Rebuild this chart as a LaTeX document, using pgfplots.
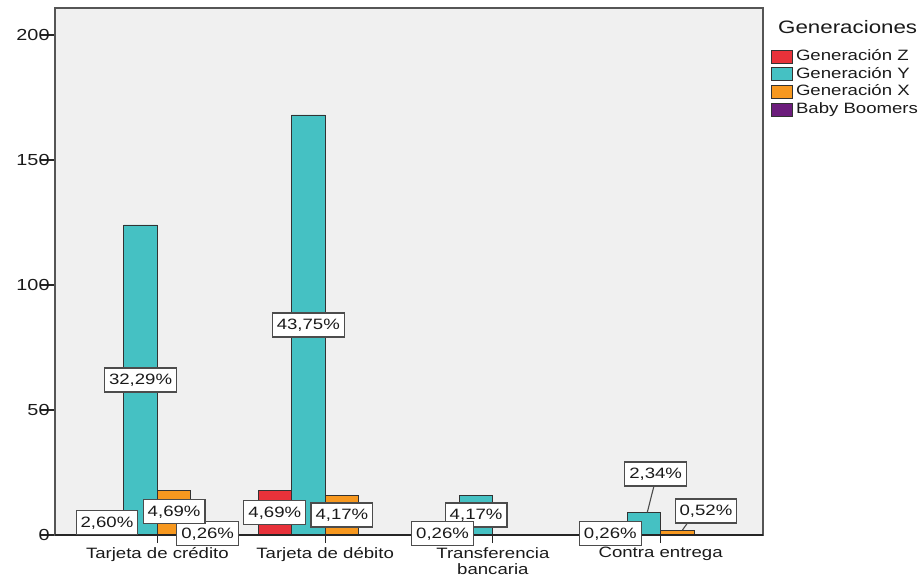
\documentclass[border=0pt]{standalone}
\usepackage{fontspec}
\setmainfont{Liberation Sans}[FakeStretch=1.24]
\usepackage{pgfplots}
\usepackage{pgfplotstable}
\pgfplotsset{compat=1.18}

\definecolor{genZ}{HTML}{E8323A}
\definecolor{genY}{HTML}{45C1C3}
\definecolor{genX}{HTML}{F7981F}
\definecolor{genBB}{HTML}{6C1D7C}
\definecolor{panel}{HTML}{F0F0F0}
\definecolor{framegray}{HTML}{555555}
\definecolor{txt}{HTML}{1A1A1A}

% counts per payment method (N = 384); lx/ly place the percentage label
\pgfplotstableread{
x     n    lx     ly
-0.3  10   -0.3   5
0.7   18   0.7    9
1.7   1    1.7    0.5
2.7   1    2.7    0.5
}\tZ
\pgfplotstableread{
x     n    lx     ly
-0.1  124  -0.1   62
0.9   168  0.9    84
1.9   16   1.9    8
2.9   9    2.97   24.4
}\tY
\pgfplotstableread{
x     n    lx     ly
0.1   18   0.1    9.3
1.1   16   1.1    8
3.1   2    3.27   9.6
}\tX
\pgfplotstableread{
x     n    lx     ly
0.3   1    0.3    0.5
}\tBB

\pgfplotsset{
  genbar/.style={ybar, bar width=0.2, bar shift=0pt, draw=black!80,
    line width=0.8bp, forget plot},
  pctlabel/.style={draw=none, forget plot,
    point meta={\thisrow{n}/3.84},
    nodes near coords={\pgfmathprintnumber[fixed,fixed zerofill,precision=2,use comma]{\pgfplotspointmeta}\%},
    nodes near coords align=center,
    every node near coord/.style={anchor=center, draw=black!70, fill=white,
      line width=1.1bp, text=txt, font=\fontsize{15bp}{18bp}\selectfont,
      inner xsep=4.5bp, inner ysep=5.5bp, text height=11bp, text depth=2bp}},
}

\begin{document}
\begin{tikzpicture}
\useasboundingbox (-55bp,-41bp) rectangle (865bp,535bp);
\begin{axis}[
  at={(0,0)}, anchor=south west,
  scale only axis, width=708bp, height=527bp,
  xmin=-0.61, xmax=3.61, ymin=0, ymax=210.8,
  clip=false,
  axis background/.style={fill=panel},
  axis line style={framegray, line width=1.5bp},
  xtick={0,1,2,3},
  xticklabels={Tarjeta de crédito, Tarjeta de débito, {Transferencia\\bancaria}, Contra entrega},
  ytick={0,50,100,150,200},
  xtick pos=bottom, ytick pos=left, tick align=outside,
  xtick style={black!85, line width=1.2bp, /pgfplots/major tick length=8bp},
  ytick style={black!85, line width=1.2bp, /pgfplots/major tick length=14bp},
  /pgf/number format/assume math mode=true,
  xticklabel style={align=center, text=txt, font=\fontsize{15bp}{16bp}\selectfont,
    inner ysep=2bp, yshift=-6bp},
  yticklabel style={text=txt, font=\fontsize{16bp}{18bp}\selectfont, inner xsep=1bp},
  legend style={draw=none, fill=none, at={(1,1)}, anchor=north west,
    xshift=8bp, yshift=-40bp, inner sep=0pt, row sep=0pt, column sep=3bp,
    font=\fontsize{15bp}{17.7bp}\selectfont, text=txt,
    nodes={inner sep=0pt, text height=12.2bp, text depth=5.5bp}},
  legend cell align=left,
  legend image code/.code={\draw[#1] (0bp,-6bp) rectangle (21bp,7bp);},
]
\addplot[genbar, fill=genZ] table[x=x, y=n] {\tZ};
\addplot[genbar, fill=genY] table[x=x, y=n] {\tY};
\addplot[genbar, fill=genX] table[x=x, y=n] {\tX};
\addplot[genbar, fill=genBB] table[x=x, y=n] {\tBB};

% x axis baseline
\draw[black!85, line width=1.2bp] (rel axis cs:0,0) -- (rel axis cs:1,0);

% leader lines for the labels moved off their bars
\draw[black!70, line width=1.1bp] (axis cs:2.96,19.6) -- (axis cs:2.92,9);
\draw[black!70, line width=1.1bp] (axis cs:3.16,4.8) -- (axis cs:3.13,2);

\addplot[pctlabel] table[x=lx, y=ly] {\tBB};
\addplot[pctlabel] table[x=lx, y=ly] {\tX};
\addplot[pctlabel] table[x=lx, y=ly] {\tY};
\addplot[pctlabel] table[x=lx, y=ly] {\tZ};

\addlegendimage{fill=genZ, draw=black!80, line width=0.8bp}
\addlegendentry{Generación Z}
\addlegendimage{fill=genY, draw=black!80, line width=0.8bp}
\addlegendentry{Generación Y}
\addlegendimage{fill=genX, draw=black!80, line width=0.8bp}
\addlegendentry{Generación X}
\addlegendimage{fill=genBB, draw=black!80, line width=0.8bp}
\addlegendentry{Baby Boomers}

\node[anchor=west, text=txt, font=\fontsize{18bp}{20bp}\selectfont, inner sep=0pt]
  at ([xshift=15bp, yshift=-19bp] rel axis cs:1,1) {Generaciones};
\end{axis}
\end{tikzpicture}
\end{document}
